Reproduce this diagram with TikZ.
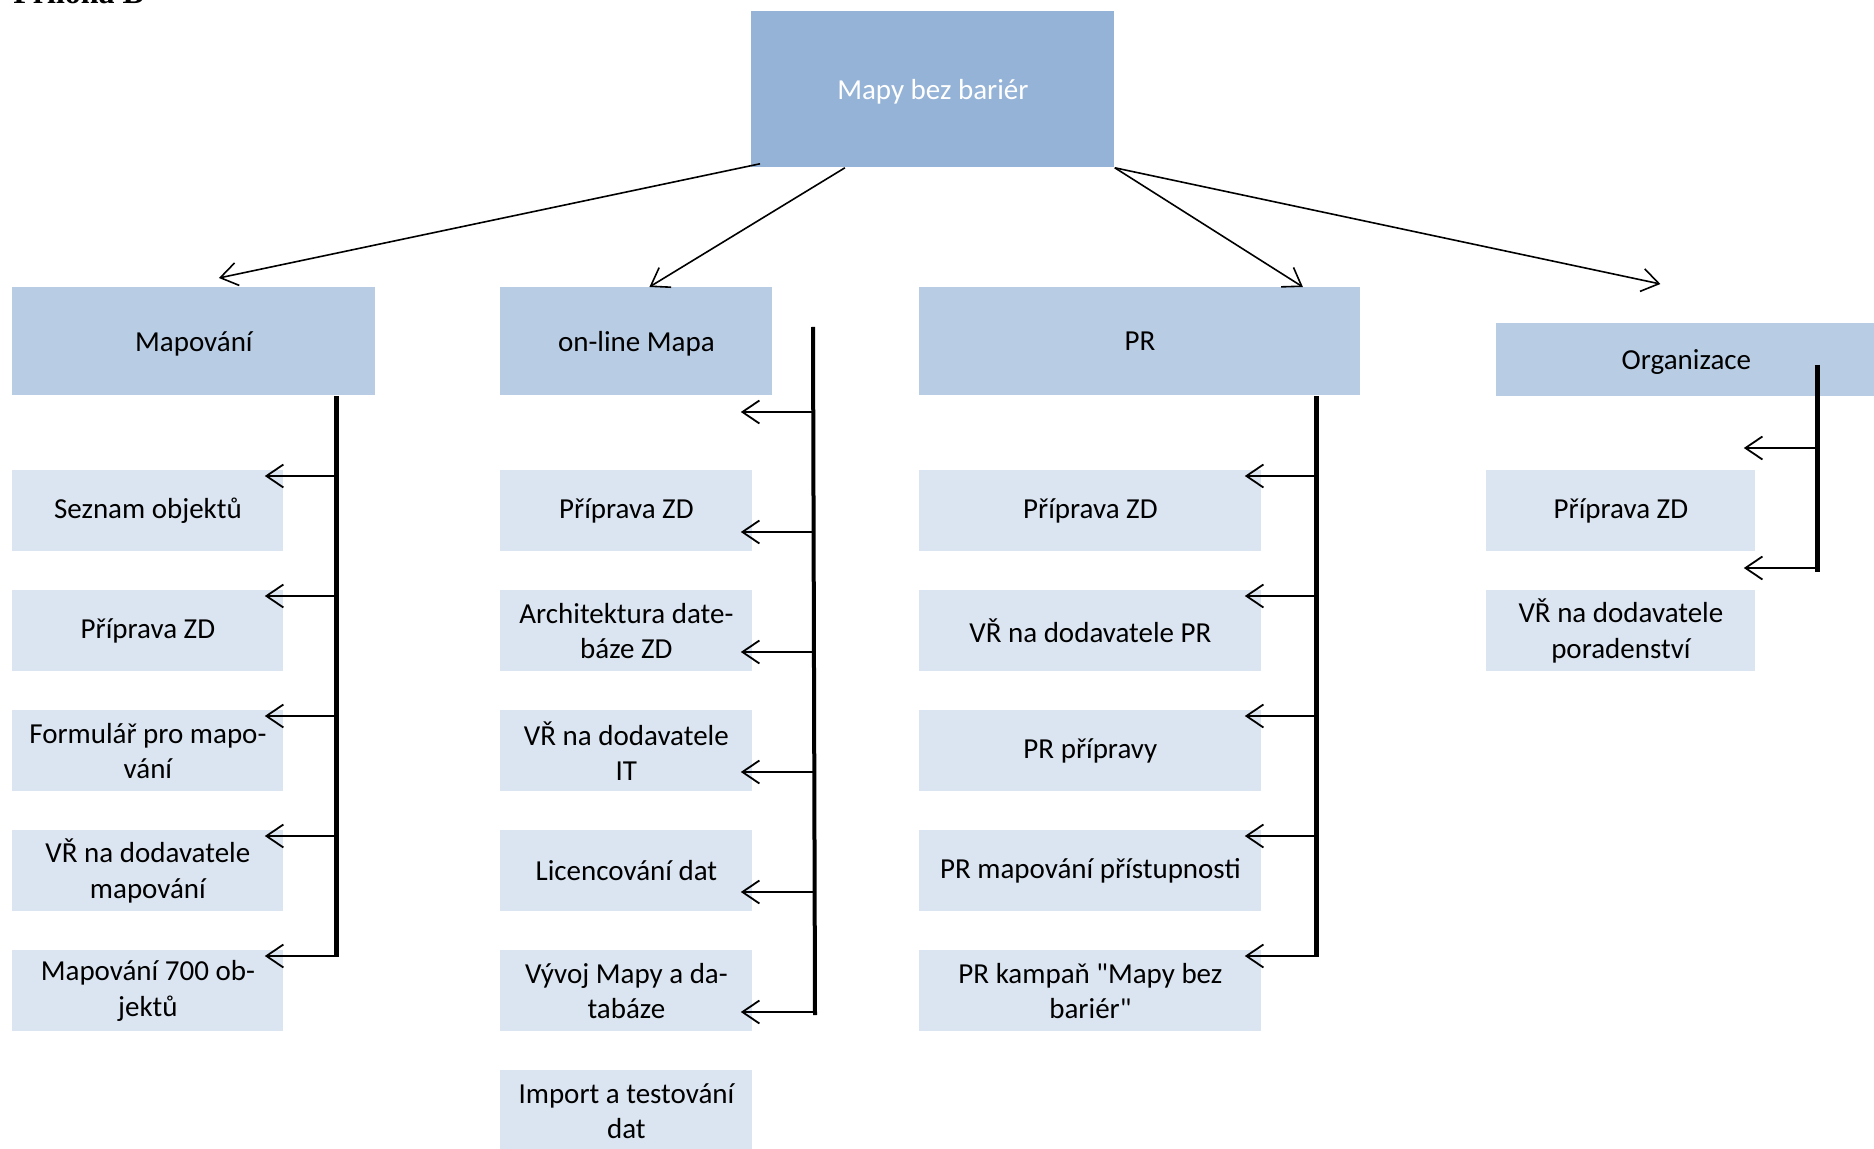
\documentclass[tikz,border=0pt]{standalone}
\usepackage{fontspec}
\setmainfont{Carlito}[Ligatures=TeXOff]
\newfontfamily\annexfont{Liberation Serif}
\usetikzlibrary{arrows.meta, calc, positioning}
\definecolor{rootblue}{RGB}{149, 179, 215}
\definecolor{headblue}{RGB}{184, 204, 228}
\definecolor{taskblue}{RGB}{219, 229, 241}

\tikzset{
  box/.style={anchor=north west, inner sep=0pt, align=center, font={\fontsize{14.5}{17.7}\selectfont}},
  head/.style={box, fill=headblue, minimum height=54pt, text depth=0pt},
  task/.style={box, fill=taskblue, minimum height=40.5pt},
  arr/.style={-{Straight Barb[length=8.5pt, width=11.5pt]}, line width=0.9pt},
  bar/.style={line width=2.5pt},
}

\begin{document}
\begin{tikzpicture}[x=0.5pt, y=-0.5pt]
  \useasboundingbox (0,0) rectangle (1874,1149);

  % annex title, cut by the page edge
  \node[anchor=base west, inner sep=0pt, font={\annexfont\bfseries\fontsize{16}{18}\selectfont}] (title) at (13,4) {Příloha B};

  % project
  \node[box, fill=rootblue, text=white, minimum width=181.5pt, minimum height=78pt, text depth=0pt] (root) at (751,11) {Mapy bez bariér};

  % work packages
  \node[head, minimum width=181.5pt] (map) at (12,287) {Mapování};
  \node[head, minimum width=136pt] (onl) at (500,287) {on-line Mapa};
  \node[head, minimum width=220.5pt] (pr) at (919,287) {PR};
  \node[head, minimum width=190pt, minimum height=36.5pt] (org) at (1496,323) {Organizace};

  \draw[arr, line width=0.8pt] ($(root.south west)+(9,-4)$) -- ($(map.north)+(25,-9)$);
  \draw[arr, line width=0.8pt] ($(root.south)+(-88,0)$) -- ($(onl.north)+(13,0)$);
  \draw[arr, line width=0.8pt] (root.south east) -- ($(pr.north)+(163,0)$);
  \draw[arr, line width=0.8pt] (root.south east) -- ($(org.north)+(-26,-39)$);

  % Mapovani
  \node[task, minimum width=135.5pt] (map1) at (12,470) {Seznam objektů};
  \node[task, minimum width=135.5pt] (map2) at (12,590) {Příprava ZD};
  \node[task, minimum width=135.5pt] (map3) at (12,710) {Formulář pro mapo-\\vání};
  \node[task, minimum width=135.5pt] (map4) at (12,830) {VŘ na dodavatele\\mapování};
  \node[task, minimum width=135.5pt] (map5) at (12,950) {Mapování 700 ob-\\jektů};

  \coordinate (maptop) at (336,396);
  \coordinate (mapbot) at (336,957);
  \draw[bar] (maptop) -- (mapbot);
  \foreach \i in {1,...,5}{
    \coordinate (t) at ($(map\i.north east)+(-19,6)$);
    \draw[arr] (t -| maptop) -- (t);
  }

  % on-line Mapa
  \node[task, minimum width=126pt] (onl1) at (500,470) {Příprava ZD};
  \node[task, minimum width=126pt] (onl2) at (500,590) {Architektura date-\\báze ZD};
  \node[task, minimum width=126pt] (onl3) at (500,710) {VŘ na dodavatele\\IT};
  \node[task, minimum width=126pt] (onl4) at (500,830) {Licencování dat};
  \node[task, minimum width=126pt] (onl5) at (500,950) {Vývoj Mapy a da-\\tabáze};
  \node[task, minimum width=126pt] (onl6) at (500,1070) {Import a testování\\dat};

  \coordinate (onltop) at (813,327);
  \coordinate (onlbot) at (815,1015);
  \draw[bar, line width=2pt] (onltop) -- (onlbot);
  \foreach \i in {1,...,6}{
    \coordinate (t) at ($(onl\i.north east)+(-12,-58)$);
    \draw[arr] (t -| onltop) -- (t);
  }

  % PR
  \node[task, minimum width=171pt] (pr1) at (919,470) {Příprava ZD};
  \node[task, minimum width=171pt] (pr2) at (919,590) {VŘ na dodavatele PR};
  \node[task, minimum width=171pt] (pr3) at (919,710) {PR přípravy};
  \node[task, minimum width=171pt] (pr4) at (919,830) {PR mapování přístupnosti};
  \node[task, minimum width=171pt] (pr5) at (919,950) {PR kampaň "Mapy bez\\bariér"};

  \coordinate (prtop) at (1316,396);
  \coordinate (prbot) at (1316,957);
  \draw[bar] (prtop) -- (prbot);
  \foreach \i in {1,...,5}{
    \coordinate (t) at ($(pr\i.north east)+(-17,6)$);
    \draw[arr] (t -| prtop) -- (t);
  }

  % Organizace
  \node[task, minimum width=134.5pt] (org1) at (1486,470) {Příprava ZD};
  \node[task, minimum width=134.5pt] (org2) at (1486,590) {VŘ na dodavatele\\poradenství};

  \coordinate (orgtop) at (1817,365);
  \coordinate (orgbot) at (1817,572);
  \draw[bar] (orgtop) -- (orgbot);
  \foreach \i in {1,2}{
    \coordinate (t) at ($(org\i.north east)+(-12,-22)$);
    \draw[arr] (t -| orgtop) -- (t);
  }
\end{tikzpicture}
\end{document}
